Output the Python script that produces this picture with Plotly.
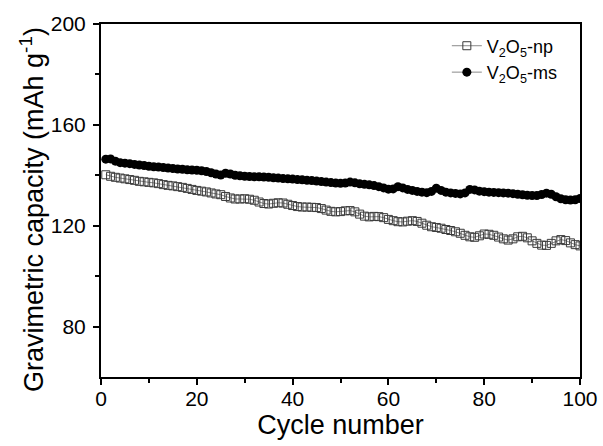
import plotly.graph_objects as go

cycles = list(range(1, 101))

np_capacity = [
    140.2, 139.6, 139.2, 138.9, 138.6, 138.3, 138.0, 137.6, 137.4, 137.2,
    137.0, 136.7, 136.3, 136.0, 135.8, 135.5, 135.2, 134.8, 134.4, 134.0,
    133.7, 133.4, 133.0, 132.6, 132.3, 131.6, 131.0, 130.6, 130.6, 130.7,
    130.5, 130.1, 129.4, 128.8, 128.6, 128.9, 129.1, 129.0, 128.5, 128.0,
    127.6, 127.4, 127.4, 127.3, 127.2, 126.8, 126.2, 125.7, 125.5, 125.6,
    125.9, 126.0, 125.5, 124.6, 123.8, 123.5, 123.7, 123.6, 123.2, 122.5,
    122.0, 121.6, 121.5, 121.8, 122.0, 121.7, 121.0, 120.2, 119.6, 119.3,
    119.0, 118.5, 118.1, 117.6, 117.0, 116.2, 115.6, 115.4, 116.0, 116.7,
    116.6, 116.2, 115.5, 114.8, 114.3, 114.8, 115.6, 115.8, 115.2, 114.0,
    113.0, 112.3, 112.2, 113.0, 114.0, 114.5, 114.1, 113.2, 112.5, 112.0,
]

ms_capacity = [
    146.4, 146.5, 145.6, 145.0, 144.8, 144.6, 144.3, 144.1, 143.9, 143.6,
    143.4, 143.3, 143.1, 142.9, 142.7, 142.5, 142.4, 142.2, 142.1, 142.0,
    141.8, 141.5, 141.0, 140.5, 140.1, 140.8, 140.5, 140.0, 139.8, 139.6,
    139.5, 139.4, 139.4, 139.3, 139.2, 139.0, 138.9, 138.7, 138.6, 138.5,
    138.3, 138.2, 138.0, 137.9, 137.7, 137.5, 137.3, 137.1, 136.9, 136.8,
    136.9, 137.3, 137.0, 136.6, 136.4, 136.2, 135.9, 135.5, 135.0, 134.5,
    134.6, 135.5, 135.0, 134.4, 134.0, 133.6, 133.3, 133.1, 133.6, 134.9,
    134.0, 133.3, 133.0, 132.8, 132.6, 133.0, 134.4, 134.2, 133.7, 133.5,
    133.3, 133.2, 133.1, 133.0, 132.9, 132.7, 132.5, 132.3, 132.1, 132.0,
    132.0, 132.4, 132.9, 132.5, 131.5, 130.7, 130.3, 130.2, 130.3, 130.8,
]

x_ticks = [0, 20, 40, 60, 80, 100]
y_ticks = [80, 120, 160, 200]

FONT = "Liberation Sans, Arial, sans-serif"
W, H = 603, 446
ML, MR, MT, MB = 101, 23, 24, 69

fig = go.Figure()
fig.add_trace(go.Scatter(
    x=cycles, y=np_capacity, mode="lines+markers",
    name="V<sub>2</sub>O<sub>5</sub>-np",
    line=dict(color="#8a8a8a", width=1),
    marker=dict(symbol="square-open", size=8, color="#3a3a3a", line=dict(width=1, color="#3a3a3a")),
))
fig.add_trace(go.Scatter(
    x=cycles, y=ms_capacity, mode="lines+markers",
    name="V<sub>2</sub>O<sub>5</sub>-ms",
    line=dict(color="#8a8a8a", width=1),
    marker=dict(symbol="circle", size=9, color="black"),
))

axis_common = dict(
    showline=True, linecolor="black", linewidth=2, mirror=True,
    showgrid=False, zeroline=False, automargin=False,
    ticks="outside", tickcolor="black", tickwidth=2, ticklen=6,
    tickfont=dict(family=FONT, size=21, color="black"),
)

fig.update_xaxes(
    range=[0, 100], tickvals=x_ticks, ticklabelstandoff=-4,
    title=dict(text="Cycle number", font=dict(family=FONT, size=27, color="black"), standoff=0),
    minor=dict(tickvals=[10, 30, 50, 70, 90], ticks="outside", ticklen=4, tickcolor="black", tickwidth=2),
    **axis_common,
)
fig.update_yaxes(
    range=[60, 200], tickvals=y_ticks, ticklabelstandoff=3,
    minor=dict(tickvals=[100, 140, 180], ticks="outside", ticklen=4, tickcolor="black", tickwidth=2),
    **axis_common,
)

# y-axis title as a rotated annotation (positioned in paper pixels)
plot_h = H - MT - MB
fig.add_annotation(
    text="Gravimetric capacity (mAh g<sup>-1</sup>)",
    textangle=-90, showarrow=False,
    xref="paper", yref="paper",
    x=-(ML - 32) / (W - ML - MR), y=(H - MB - 210) / plot_h,
    xanchor="center", yanchor="middle",
    font=dict(family=FONT, size=27, color="black"),
)

fig.update_layout(
    width=W, height=H,
    margin=dict(l=ML, r=MR, t=MT, b=MB),
    plot_bgcolor="white", paper_bgcolor="white",
    font=dict(family=FONT, color="black"),
    legend=dict(
        x=0.722, y=0.99, xanchor="left", yanchor="top",
        font=dict(family=FONT, size=18, color="black"),
        bgcolor="rgba(0,0,0,0)", tracegroupgap=0,
    ),
    showlegend=True,
)

fig.write_html(
    "out.html",
    config={"displayModeBar": False},
    post_script="document.body.style.margin='0';",
)
